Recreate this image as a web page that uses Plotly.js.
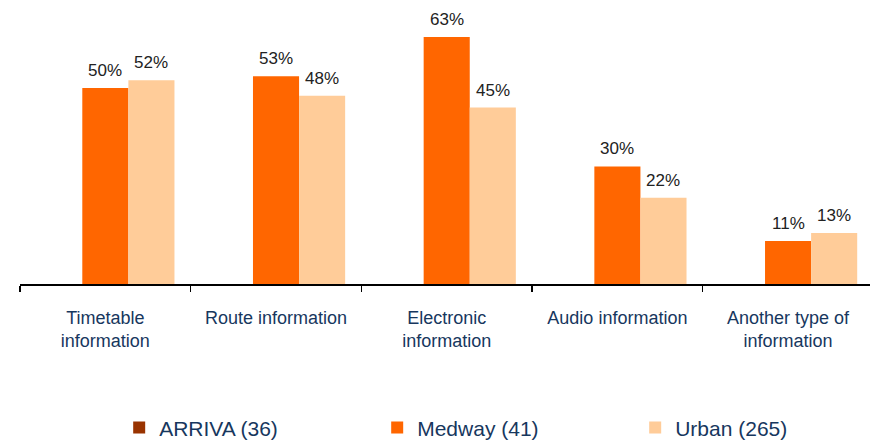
<!DOCTYPE html>
<html>
<head>
<meta charset="utf-8">
<script src="https://cdn.plot.ly/plotly-3.0.1.min.js"></script>
<style>html,body{margin:0;padding:0;background:#fff;}#chart{width:870px;height:442px;}</style>
</head>
<body>
<div id="chart"></div>
<script>
const categories = ["Timetable<br>information", "Route information", "Electronic<br>information", "Audio information", "Another type of<br>information"];
const seriesNames = ["ARRIVA (36)", "Medway (41)", "Urban (265)"];
const arrivaValues = [null, null, null, null, null];
const medwayValues = [50, 53, 63, 30, 11];
const urbanValues = [52, 48, 45, 22, 13];

const colors = ["#993300", "#FF6600", "#FFCC99"];
const labelFont = {family: "Liberation Sans, Arial, sans-serif", size: 17, color: "#222222"};
const blue = "#17375E";

const W = 870, H = 442;
const margin = {l: 20, r: 0, t: 8, b: 158};
const xRange = [-0.5, 4.48];
const bargap = 0.19;
const catPx = (W - margin.l - margin.r) / (xRange[1] - xRange[0]);
const barPx = catPx * (1 - bargap) / 3;

const traces = [arrivaValues, medwayValues, urbanValues].map((vals, i) => ({
  type: "bar",
  name: seriesNames[i],
  x: categories,
  y: vals,
  marker: {color: colors[i], line: {width: 0}},
  hoverinfo: "none"
}));

const annotations = [];
[[arrivaValues, -1], [medwayValues, 0], [urbanValues, 1]].forEach(([vals, slot]) => {
  vals.forEach((v, j) => {
    if (v === null) return;
    annotations.push({
      x: categories[j], y: v, xref: "x", yref: "y",
      text: v + "%", showarrow: false,
      xanchor: "center", yanchor: "bottom",
      xshift: slot * barPx, yshift: 6,
      font: labelFont
    });
  });
});

const layout = {
  width: W, height: H,
  margin: margin,
  paper_bgcolor: "#ffffff",
  plot_bgcolor: "#ffffff",
  barmode: "group",
  bargap: bargap,
  bargroupgap: 0,
  showlegend: true,
  legend: {
    orientation: "h",
    xref: "container", yref: "container",
    x: 0.137, xanchor: "left",
    y: 0.032, yanchor: "middle",
    entrywidth: 213,
    font: {family: "Liberation Sans, Arial, sans-serif", size: 21, color: blue},
    traceorder: "normal"
  },
  xaxis: {
    type: "category",
    range: xRange,
    showline: true, linecolor: "#000000", linewidth: 2,
    ticks: "outside", tickson: "boundaries", ticklen: 6, tickwidth: 1.5, tickcolor: "#000000",
    ticklabelstandoff: 16,
    showgrid: false, zeroline: false,
    tickfont: {family: "Liberation Sans, Arial, sans-serif", size: 18, color: blue},
    fixedrange: true
  },
  yaxis: {
    range: [0, 70.41],
    visible: false,
    showgrid: false, zeroline: false,
    fixedrange: true
  },
  annotations: annotations
};

Plotly.newPlot("chart", traces, layout, {displayModeBar: false, staticPlot: true});
</script>
</body>
</html>
